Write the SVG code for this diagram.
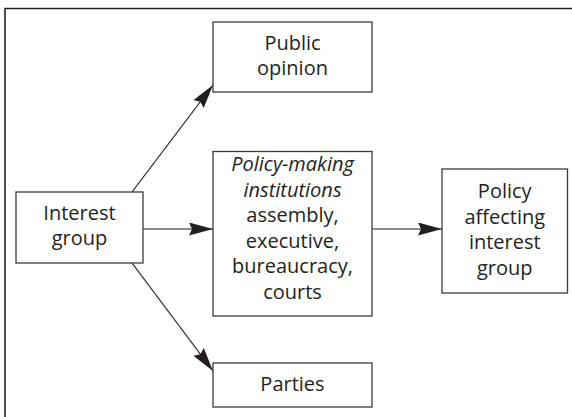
<svg xmlns="http://www.w3.org/2000/svg" width="572" height="417" viewBox="0 0 572 417">
<style>
.box{fill:#fff;stroke:#3c3c3c;stroke-width:1.3}
.t{font-family:"Open Sans","Liberation Sans",sans-serif;font-size:20px;fill:#231f20;text-anchor:middle}
.i{font-style:italic}
.c{stroke:#231f20;stroke-width:1.2;fill:none}
</style>
<defs>
<marker id="ah" markerUnits="userSpaceOnUse" markerWidth="26" markerHeight="14" refX="24" refY="6.5" orient="auto">
<path d="M0,0 L24,6.5 L0,13 L3,6.5 z" fill="#231f20"/>
</marker>
</defs>
<rect width="572" height="417" fill="#fff"/>
<path d="M5,417 V8.5 H572" fill="none" stroke="#222" stroke-width="1.6"/>
<g id="connectors">
<line class="c" x1="132" y1="192" x2="213" y2="85" marker-end="url(#ah)"/>
<line class="c" x1="143" y1="229" x2="213" y2="229" marker-end="url(#ah)"/>
<line class="c" x1="132" y1="263" x2="213" y2="371" marker-end="url(#ah)"/>
<line class="c" x1="372" y1="229" x2="442" y2="229" marker-end="url(#ah)"/>
</g>
<g id="interest-group">
<rect class="box" x="16" y="192" width="127" height="71"/>
<text class="t" x="79.5" y="219.5">Interest</text>
<text class="t" x="79.5" y="244.5">group</text>
</g>
<g id="public-opinion">
<rect class="box" x="213" y="22" width="159" height="70"/>
<text class="t" x="292.5" y="50">Public</text>
<text class="t" x="292.5" y="75">opinion</text>
</g>
<g id="policy-making">
<rect class="box" x="213" y="151.5" width="159" height="164.5"/>
<text class="t i" x="292.5" y="171">Policy-making</text>
<text class="t i" x="292.5" y="196.5">institutions</text>
<text class="t" x="292.5" y="222">assembly,</text>
<text class="t" x="292.5" y="247.5">executive,</text>
<text class="t" x="292.5" y="273">bureaucracy,</text>
<text class="t" x="292.5" y="298.5">courts</text>
</g>
<g id="parties">
<rect class="box" x="213" y="363" width="159" height="44"/>
<text class="t" x="292.5" y="390.5">Parties</text>
</g>
<g id="policy-affecting">
<rect class="box" x="442" y="169" width="125.5" height="124"/>
<text class="t" x="504.75" y="198">Policy</text>
<text class="t" x="504.75" y="223.5">affecting</text>
<text class="t" x="504.75" y="249">interest</text>
<text class="t" x="504.75" y="274.5">group</text>
</g>
</svg>
